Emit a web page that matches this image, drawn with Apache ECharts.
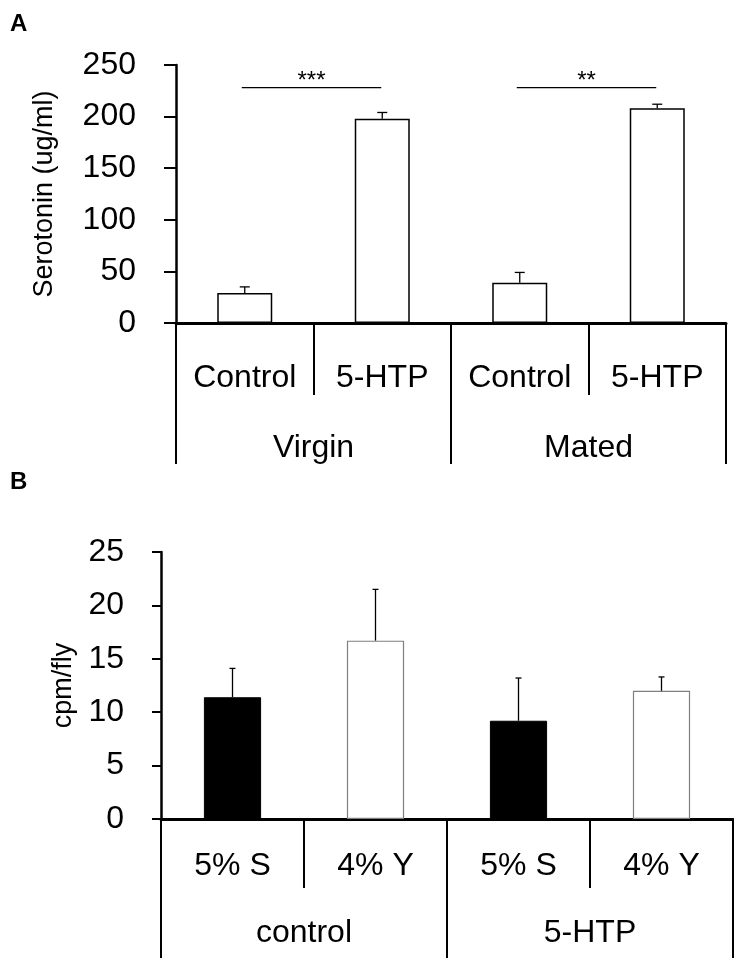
<!DOCTYPE html>
<html>
<head>
<meta charset="utf-8">
<script src="https://cdn.jsdelivr.net/npm/echarts@6/dist/echarts.min.js"></script>
<style>
  html, body { margin: 0; padding: 0; background: #fff; }
  #main { width: 734px; height: 958px; }
</style>
</head>
<body>
<div id="main"></div>
<script>
// panel A
var catsA = ['Control', '5-HTP', 'Control', '5-HTP'];
var groupsA = ['Virgin', 'Mated'];
var serotonin = [29, 198, 39, 208];
var serotoninErr = [6, 6, 10, 4];
var sigPairs = [[0, 1], [2, 3]];
var sigLabels = ['***', '**'];
var sigLevel = 228;
var ticksA = [0, 50, 100, 150, 200, 250];

// panel B
var catsB = ['5% S', '4% Y', '5% S', '4% Y'];
var groupsB = ['control', '5-HTP'];
var cpm = [11.4, 16.7, 9.2, 12.0];
var cpmErr = [2.7, 4.8, 4.0, 1.3];
var ticksB = [0, 5, 10, 15, 20, 25];

var FONT = '"Liberation Sans", Arial, sans-serif';

var chartDom = document.getElementById('main');
var myChart = echarts.init(chartDom);
var option;

function errRender(cap) {
  return function (params, api) {
    var x = api.value(0), v = api.value(1), e = api.value(2);
    var p0 = api.coord([x, v]);
    var p1 = api.coord([x, v + e]);
    var st = { stroke: '#000', lineWidth: 1.3 };
    return {
      type: 'group',
      children: [
        { type: 'line', shape: { x1: p0[0], y1: p0[1], x2: p1[0], y2: p1[1] }, style: st },
        { type: 'line', shape: { x1: p1[0] - cap, y1: p1[1], x2: p1[0] + cap, y2: p1[1] }, style: st }
      ]
    };
  };
}

function catAxis(grid, cats, len, margin, showLine) {
  return {
    type: 'category',
    gridIndex: grid,
    position: 'bottom',
    data: cats,
    boundaryGap: true,
    axisLine: { show: showLine, lineStyle: { color: '#000', width: 3 } },
    axisTick: { show: true, length: len, interval: 0, lineStyle: { color: '#000', width: 2 } },
    axisLabel: { interval: 0, margin: margin, color: '#000', fontSize: 32, fontFamily: FONT }
  };
}

function valAxis(grid, max, interval, name, nameGap, tickLen) {
  return {
    type: 'value',
    gridIndex: grid,
    min: 0,
    max: max,
    interval: interval,
    name: name,
    nameLocation: 'middle',
    nameRotate: 90,
    nameGap: nameGap,
    nameTextStyle: { color: '#000', fontSize: 27, fontFamily: FONT },
    splitLine: { show: false },
    axisLine: { show: true, lineStyle: { color: '#000', width: 2.5 } },
    axisTick: { show: true, length: tickLen, lineStyle: { color: '#000', width: 2 } },
    axisLabel: { margin: tickLen + 28, color: '#000', fontSize: 32, fontFamily: FONT }
  };
}

option = {
  animation: false,
  backgroundColor: '#fff',
  textStyle: { fontFamily: FONT },
  graphic: [
    { type: 'text', left: 10, top: 12, style: { text: 'A', font: 'bold 24px ' + FONT, fill: '#000' } },
    { type: 'text', left: 10, top: 470, style: { text: 'B', font: 'bold 24px ' + FONT, fill: '#000' } }
  ],
  grid: [
    { left: 176, right: 8, top: 65, height: 258 },
    { left: 161, right: 1, top: 552, height: 267 }
  ],
  xAxis: [
    catAxis(0, catsA, 72, 39, true),
    catAxis(0, groupsA, 141, 109, false),
    catAxis(1, catsB, 69, 31, true),
    catAxis(1, groupsB, 140, 98, false)
  ],
  yAxis: [
    valAxis(0, 250, 50, 'Serotonin (ug/ml)', 118, 12),
    valAxis(1, 25, 5, 'cpm/fly', 80, 9)
  ],
  series: [
    {
      type: 'bar',
      xAxisIndex: 0,
      yAxisIndex: 0,
      barWidth: '40%',
      data: serotonin,
      itemStyle: { color: '#fff', borderColor: '#000', borderWidth: 1.5 }
    },
    {
      type: 'custom',
      xAxisIndex: 0,
      yAxisIndex: 0,
      encode: { x: 0, y: 1 },
      renderItem: errRender(5),
      data: serotonin.map(function (v, i) { return [i, v, serotoninErr[i]]; }),
      z: 5
    },
    {
      type: 'custom',
      xAxisIndex: 0,
      yAxisIndex: 0,
      encode: { x: [0, 1], y: 2 },
      renderItem: function (params, api) {
        var a = api.coord([api.value(0), api.value(2)]);
        var b = api.coord([api.value(1), api.value(2)]);
        return {
          type: 'group',
          children: [
            { type: 'line', shape: { x1: a[0] - 3, y1: a[1], x2: b[0] - 1, y2: b[1] }, style: { stroke: '#000', lineWidth: 1.2 } },
            {
              type: 'text',
              style: {
                text: sigLabels[api.value(3)],
                x: (a[0] + b[0]) / 2 - 2,
                y: a[1] + 6,
                align: 'center',
                verticalAlign: 'bottom',
                font: '24px ' + FONT,
                fill: '#000'
              }
            }
          ]
        };
      },
      data: sigPairs.map(function (p, i) { return [p[0], p[1], sigLevel, i]; })
    },
    {
      type: 'bar',
      xAxisIndex: 2,
      yAxisIndex: 1,
      barWidth: '40%',
      data: cpm.map(function (v, i) {
        return {
          value: v,
          itemStyle: i % 2 === 0
            ? { color: '#000', borderColor: '#000', borderWidth: 1 }
            : { color: '#fff', borderColor: '#7f7f7f', borderWidth: 1.2 }
        };
      })
    },
    {
      type: 'custom',
      xAxisIndex: 2,
      yAxisIndex: 1,
      encode: { x: 0, y: 1 },
      renderItem: errRender(3),
      data: cpm.map(function (v, i) { return [i, v, cpmErr[i]]; }),
      z: 5
    }
  ]
};

option && myChart.setOption(option);
</script>
</body>
</html>
